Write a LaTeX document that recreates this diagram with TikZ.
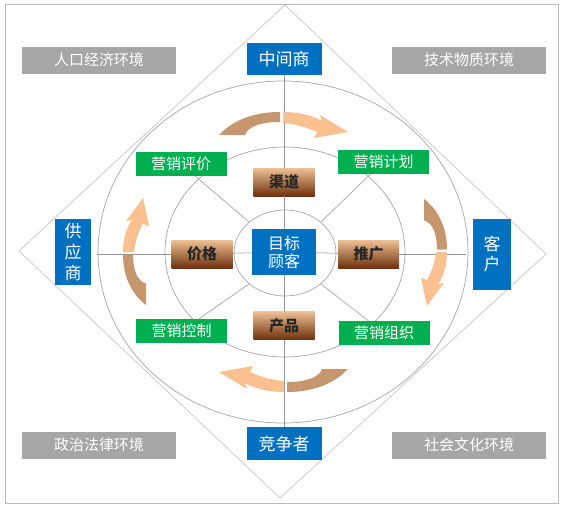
\documentclass[tikz,border=0pt]{standalone}
\usepackage{fontspec}
\setmainfont{Noto Sans CJK SC}
\usepackage{tikz}
\usetikzlibrary{positioning, calc}

\definecolor{envgray}{RGB}{166,166,166}
\definecolor{partblue}{RGB}{0,112,192}
\definecolor{mixgreen}{RGB}{0,176,80}
\definecolor{tanlight}{RGB}{238,192,148}
\definecolor{tandark}{RGB}{110,50,12}
\definecolor{arrowpeach}{RGB}{250,192,144}
\definecolor{arrowbrown}{RGB}{198,150,110}
\definecolor{linegray}{RGB}{165,165,165}

\tikzset{
  envbox/.style={fill=envgray, text=white, minimum width=154pt, minimum height=27pt,
    inner sep=0pt, font=\fontsize{15}{18}\selectfont},
  partbox/.style={fill=partblue, text=white, inner sep=0pt, align=center,
    font=\fontsize{17}{21}\selectfont},
  mixbox/.style={fill=mixgreen, text=white, minimum width=91pt, minimum height=24pt,
    inner sep=0pt, font=\fontsize{15}{18}\selectfont},
  fourp/.style={top color=tanlight, bottom color=tandark, text=black!85,
    minimum width=61pt, minimum height=28pt, inner sep=0pt,
    font=\bfseries\fontsize{15}{18}\selectfont},
  ring/.style={draw=linegray, line width=0.7pt},
  crossline/.style={draw=gray!85, line width=0.6pt},
}

% one clockwise arrow: shift, rotation, stretch along it
\newcommand{\cyclearrow}[3]{%
  \begin{scope}[shift={#1}, rotate=#2, xscale=#3]
    \fill[arrowbrown] (-64,23) .. controls (-48,6) and (-25,0) .. (-3,0)
      -- (-3,10) .. controls (-21,10) and (-35,14) .. (-38,23) -- cycle;
    \fill[arrowpeach] (0,0) .. controls (17,0) and (30,4) .. (39,9)
      -- (37,3) -- (65,20) -- (31,26) -- (34,20)
      .. controls (23,15) and (12,12) .. (0,11) -- cycle;
  \end{scope}}

\begin{document}
\begin{tikzpicture}[x=1pt, y=-1pt]
  \useasboundingbox (0,0) rectangle (566,509);
  \draw[draw=gray!55, line width=0.8pt] (5,4) rectangle (558,503);

  % diamond and rings
  \draw[draw=gray!45, line width=0.7pt] (285,5) -- (546,254) -- (280,498) -- (19,251) -- cycle;
  \draw[ring] (283,252) ellipse [x radius=185, y radius=171];
  \draw[ring] (285,252) ellipse [x radius=120, y radius=105];
  \draw[ring] (285,253) ellipse [x radius=51, y radius=43];

  \coordinate (bigW) at (97,254);
  \coordinate (bigE) at (466,254);
  \coordinate (iNW) at (249,222);
  \coordinate (iNE) at (321,222);
  \coordinate (iSW) at (249,284);
  \coordinate (iSE) at (321,284);

  % environments
  \node[envbox] (popu) at (99,60) {人口经济环境};
  \node[envbox] (tech) at (469,60) {技术物质环境};
  \node[envbox] (poli) at (99,445) {政治法律环境};
  \node[envbox] (soci) at (469,445) {社会文化环境};

  % actors
  \node[partbox, minimum width=75pt, minimum height=32pt] (dealer) at (284,59) {中间商};
  \node[partbox, minimum width=75pt, minimum height=33pt] (rival) at (284,443.5) {竞争者};
  \node[partbox, minimum width=36pt, minimum height=66pt] (supplier) at (73,252) {供\\应\\商};
  \node[partbox, minimum width=38pt, minimum height=71pt,
    font=\fontsize{17}{20}\selectfont] (customer) at (492,254.5) {客\\户};
  \node[partbox, minimum width=64pt, minimum height=46pt,
    font=\fontsize{16}{18}\selectfont] (target) at (284,252) {目标\\顾客};

  % marketing mix
  \node[fourp] (channel) at (284,182) {渠道};
  \node[fourp] (price) at (202,254) {价格};
  \node[fourp] (promo) at (368.5,254) {推广};
  \node[fourp] (product) at (284,325.5) {产品};

  % management steps
  \node[mixbox] (evalu) at (181,164) {营销评价};
  \node[mixbox] (plan) at (383.5,161.5) {营销计划};
  \node[mixbox] (control) at (181.5,331) {营销控制};
  \node[mixbox] (organ) at (384,333) {营销组织};

  \draw[crossline] (dealer) -- (channel);
  \draw[crossline] (channel) -- (target);
  \draw[crossline] (target) -- (product);
  \draw[crossline] (product) -- (rival);
  \draw[crossline] (bigW) -- (price);
  \draw[crossline] (price) -- (target);
  \draw[crossline] (target) -- (promo);
  \draw[crossline] (promo) -- (bigE);

  \draw[ring] (evalu) -- (iNW);
  \draw[ring] (plan) -- (iNE);
  \draw[ring] (control) -- (iSW);
  \draw[ring] (organ) -- (iSE);

  % cycle arrows
  \cyclearrow{(283,112)}{0}{1}
  \cyclearrow{(447,252)}{-90}{0.83}
  \cyclearrow{(284,392)}{180}{1}
  \cyclearrow{(123,252)}{90}{0.83}
\end{tikzpicture}
\end{document}
